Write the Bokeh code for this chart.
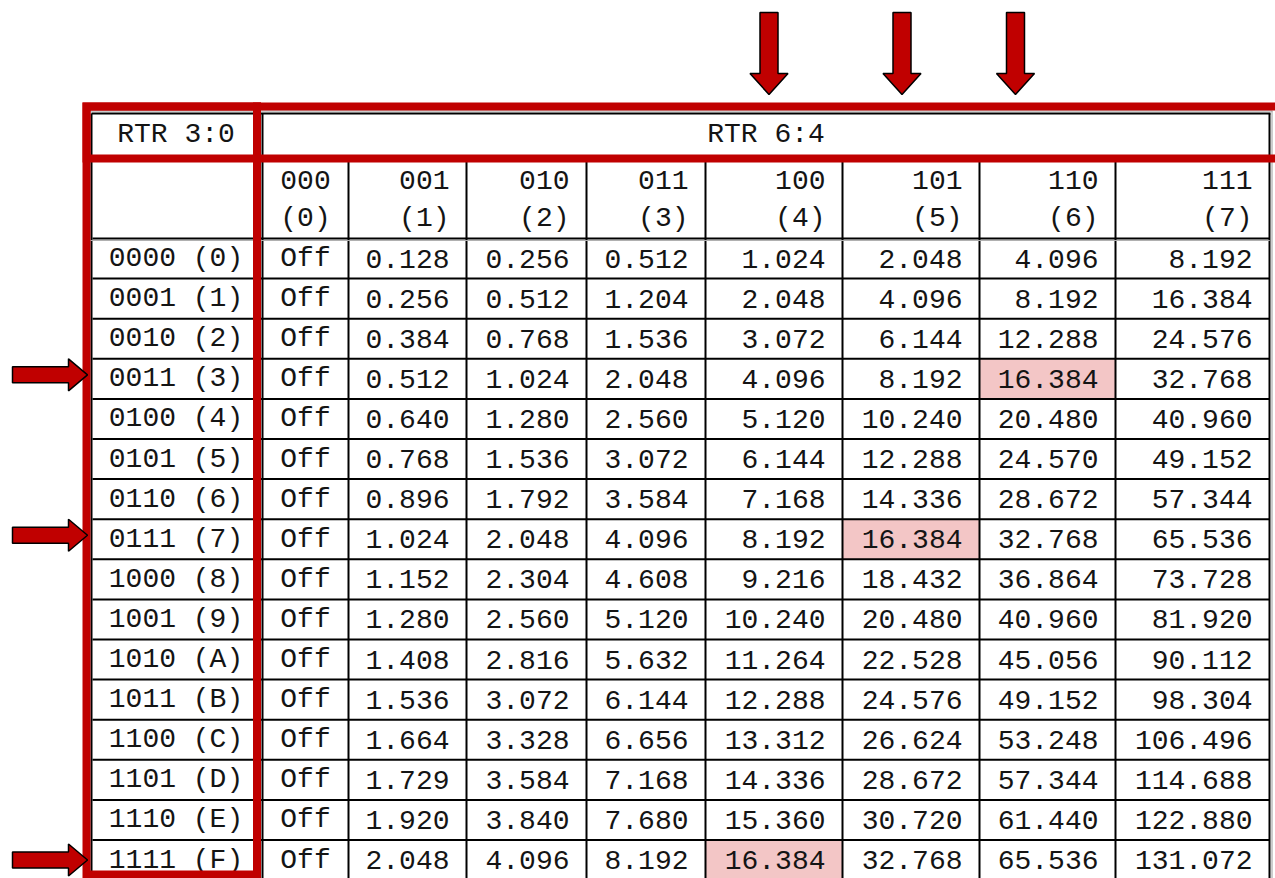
from bokeh.plotting import figure
from bokeh.models import Range1d
from bokeh.core.properties import value
from bokeh.embed import file_html
from bokeh.resources import INLINE

# ---------------- data ----------------
rtr30_labels = ["0000 (0)", "0001 (1)", "0010 (2)", "0011 (3)", "0100 (4)", "0101 (5)",
                "0110 (6)", "0111 (7)", "1000 (8)", "1001 (9)", "1010 (A)", "1011 (B)",
                "1100 (C)", "1101 (D)", "1110 (E)", "1111 (F)"]
rtr64_bits = ["000", "001", "010", "011", "100", "101", "110", "111"]
rtr64_dec = ["(0)", "(1)", "(2)", "(3)", "(4)", "(5)", "(6)", "(7)"]
header_left = "RTR 3:0"
header_right = "RTR 6:4"

col_000 = ["Off"] * 16
col_001 = ["0.128", "0.256", "0.384", "0.512", "0.640", "0.768", "0.896", "1.024",
           "1.152", "1.280", "1.408", "1.536", "1.664", "1.729", "1.920", "2.048"]
col_010 = ["0.256", "0.512", "0.768", "1.024", "1.280", "1.536", "1.792", "2.048",
           "2.304", "2.560", "2.816", "3.072", "3.328", "3.584", "3.840", "4.096"]
col_011 = ["0.512", "1.204", "1.536", "2.048", "2.560", "3.072", "3.584", "4.096",
           "4.608", "5.120", "5.632", "6.144", "6.656", "7.168", "7.680", "8.192"]
col_100 = ["1.024", "2.048", "3.072", "4.096", "5.120", "6.144", "7.168", "8.192",
           "9.216", "10.240", "11.264", "12.288", "13.312", "14.336", "15.360", "16.384"]
col_101 = ["2.048", "4.096", "6.144", "8.192", "10.240", "12.288", "14.336", "16.384",
           "18.432", "20.480", "22.528", "24.576", "26.624", "28.672", "30.720", "32.768"]
col_110 = ["4.096", "8.192", "12.288", "16.384", "20.480", "24.570", "28.672", "32.768",
           "36.864", "40.960", "45.056", "49.152", "53.248", "57.344", "61.440", "65.536"]
col_111 = ["8.192", "16.384", "24.576", "32.768", "40.960", "49.152", "57.344", "65.536",
           "73.728", "81.920", "90.112", "98.304", "106.496", "114.688", "122.880", "131.072"]
columns = [col_000, col_001, col_010, col_011, col_100, col_101, col_110, col_111]

highlight_rows = [3, 7, 15]
highlight_cols = [6, 5, 4]
arrow_cols = [4, 5, 6]
arrow_rows = [3, 7, 15]

# ---------------- layout (picture pixel coordinates) ----------------
FONT = value("Liberation Mono")
FS = "28px"
TXT = "#141414"
RED = "#C00000"
PINK = "#F3C6C6"

W, H = 1275, 878
left_x0, left_x1 = 92, 253
col_edges = [262, 348, 466, 586, 705, 842, 979, 1115, 1269]
table_top = 113
rtr_bottom = 158
head_bottom = 238
row_h = 40.1
n_rows = len(rtr30_labels)
row_edges = [head_bottom + k * row_h for k in range(n_rows + 1)]
bottom = 900
pad = 17
arrow_dx = [-5, -9, -32]
arrow_dy = [-4, -4, 0]

p = figure(width=W, height=H, x_range=Range1d(0, W), y_range=Range1d(H, 0),
           output_backend="svg", toolbar_location=None, x_axis_location=None,
           y_axis_location=None, min_border=0, background_fill_color="white",
           border_fill_color="white")
p.grid.visible = False
p.outline_line_color = None

# highlighted cells
p.quad(left=[col_edges[c] for c in highlight_cols],
       right=[col_edges[c + 1] for c in highlight_cols],
       top=[row_edges[r] for r in highlight_rows],
       bottom=[row_edges[r + 1] for r in highlight_rows],
       fill_color=PINK, line_color=None)

# grid lines
hy = list(row_edges)
p.segment(x0=[left_x0] * len(hy), x1=[col_edges[-1]] * len(hy), y0=hy, y1=hy,
          line_color="black", line_width=2)
p.segment(x0=[col_edges[0]], x1=[col_edges[-1]], y0=[rtr_bottom], y1=[rtr_bottom],
          line_color="black", line_width=2)
inner = col_edges[1:-1]
p.segment(x0=inner, x1=inner, y0=[rtr_bottom] * len(inner), y1=[bottom] * len(inner),
          line_color="black", line_width=2)
# outer borders (double)
p.segment(x0=[left_x0 - 1, col_edges[-1], col_edges[0], left_x0 - 1],
          x1=[left_x0 - 1, col_edges[-1], col_edges[0], col_edges[-1] + 1],
          y0=[table_top, table_top, table_top, table_top],
          y1=[bottom, bottom, bottom, table_top],
          line_color="black", line_width=2)
p.segment(x0=[col_edges[-1] + 2.5, left_x0 - 3], x1=[col_edges[-1] + 2.5, col_edges[-1] + 3],
          y0=[table_top - 2.5, table_top - 2.5], y1=[bottom, table_top - 2.5],
          line_color="#9a9a9a", line_width=1)
p.segment(x0=[left_x0 - 3, left_x1 + 5], x1=[col_edges[-1], col_edges[-1]],
          y0=[head_bottom + 2, head_bottom + 2], y1=[head_bottom + 2, head_bottom + 2],
          line_color="#b0b0b0", line_width=1)

# header texts
mid_x = (left_x0 + left_x1) / 2 + 3
p.text(x=[mid_x, (col_edges[0] + col_edges[-1]) / 2], y=[(table_top + rtr_bottom) / 2 - 2] * 2,
       text=[header_left, header_right], text_font=FONT, text_font_size=FS,
       text_align="center", text_baseline="middle", text_color=TXT)

hx = [(col_edges[0] + col_edges[1]) / 2] + [col_edges[i + 1] - pad for i in range(1, 8)]
p.text(x=hx[:1], y=[179], text=rtr64_bits[:1], text_font=FONT, text_font_size=FS,
       text_align="center", text_baseline="middle", text_color=TXT)
p.text(x=hx[:1], y=[218], text=rtr64_dec[:1], text_font=FONT, text_font_size=FS,
       text_align="center", text_baseline="middle", text_color=TXT)
p.text(x=hx[1:], y=[179] * 7, text=rtr64_bits[1:], text_font=FONT, text_font_size=FS,
       text_align="right", text_baseline="middle", text_color=TXT)
p.text(x=hx[1:], y=[218] * 7, text=rtr64_dec[1:], text_font=FONT, text_font_size=FS,
       text_align="right", text_baseline="middle", text_color=TXT)

# row labels
row_mid = [(row_edges[k] + row_edges[k + 1]) / 2 for k in range(n_rows)]
p.text(x=[mid_x] * n_rows, y=row_mid, text=rtr30_labels, text_font=FONT, text_font_size=FS,
       text_align="center", text_baseline="middle", text_color=TXT)

# values
for ci, col in enumerate(columns):
    if ci == 0:
        p.text(x=[hx[0]] * n_rows, y=row_mid, text=col, text_font=FONT, text_font_size=FS,
               text_align="center", text_baseline="middle", text_color=TXT)
    else:
        p.text(x=[hx[ci]] * n_rows, y=row_mid, text=col, text_font=FONT, text_font_size=FS,
               text_align="right", text_baseline="middle", text_color=TXT)

# red frames
rl, rr = 86, 256.5
p.quad(left=[rl, rl, rr], right=[rr, rr, 1310], top=[106, 106, 106], bottom=[874, 158, 158],
       fill_color=None, line_color=RED, line_width=8, line_join="miter")

# arrows
xs, ys = [], []
for c, dx in zip(arrow_cols, arrow_dx):
    cx = (col_edges[c] + col_edges[c + 1]) / 2 + dx
    xs.append([cx - 9, cx + 9, cx + 9, cx + 19, cx, cx - 19, cx - 9])
    ys.append([12, 12, 73, 73, 94, 73, 73])
for r, dy in zip(arrow_rows, arrow_dy):
    cy = row_mid[r] + dy
    xs.append([12, 68, 68, 87, 68, 68, 12])
    ys.append([cy - 8, cy - 8, cy - 16, cy, cy + 16, cy + 8, cy + 8])
p.patches(xs=xs, ys=ys, fill_color=RED, line_color="black", line_width=1.5)

open("out.html", "w").write(file_html(p, INLINE))
